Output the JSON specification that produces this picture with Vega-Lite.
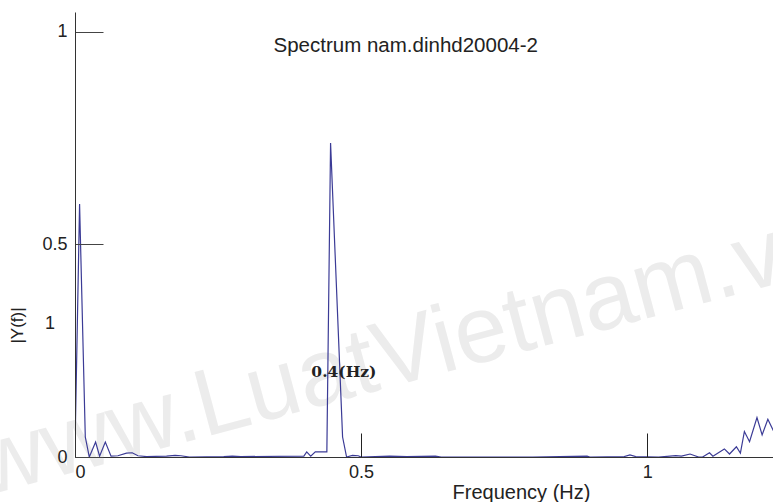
{
  "$schema": "https://vega.github.io/schema/vega-lite/v6.json",
  "autosize": {"type": "none"},
  "padding": {"left": 75, "top": 12, "right": 0, "bottom": 45},
  "width": 698,
  "height": 445,
  "background": "white",
  "config": {"view": {"stroke": null}},
  "datasets": {
    "spectrum": [
      {"f": 0.0, "v": 0.02}, {"f": 0.008, "v": 0.595}, {"f": 0.018, "v": 0.047}, {"f": 0.025, "v": 0.0},
      {"f": 0.036, "v": 0.035}, {"f": 0.043, "v": 0.002}, {"f": 0.053, "v": 0.035}, {"f": 0.063, "v": 0.002},
      {"f": 0.075, "v": 0.003}, {"f": 0.09, "v": 0.009}, {"f": 0.1, "v": 0.01}, {"f": 0.11, "v": 0.003},
      {"f": 0.125, "v": 0.001}, {"f": 0.16, "v": 0.002}, {"f": 0.175, "v": 0.004}, {"f": 0.185, "v": 0.003},
      {"f": 0.2, "v": 0.0}, {"f": 0.26, "v": 0.001}, {"f": 0.275, "v": 0.002}, {"f": 0.29, "v": 0.001},
      {"f": 0.4, "v": 0.002}, {"f": 0.405, "v": 0.012}, {"f": 0.412, "v": 0.002}, {"f": 0.42, "v": 0.012},
      {"f": 0.4402, "v": 0.012}, {"f": 0.4467, "v": 0.739}, {"f": 0.4677, "v": 0.047}, {"f": 0.4747, "v": 0.0},
      {"f": 0.485, "v": 0.004}, {"f": 0.495, "v": 0.003}, {"f": 0.5, "v": 0.0}, {"f": 0.55, "v": 0.002},
      {"f": 0.58, "v": 0.001}, {"f": 0.63, "v": 0.002}, {"f": 0.64, "v": 0.0}, {"f": 0.8, "v": 0.0},
      {"f": 0.895, "v": 0.002}, {"f": 0.9, "v": 0.0}, {"f": 0.96, "v": 0.001}, {"f": 0.97, "v": 0.005},
      {"f": 0.98, "v": 0.001}, {"f": 1.02, "v": 0.0}, {"f": 1.05, "v": 0.003}, {"f": 1.06, "v": 0.002},
      {"f": 1.075, "v": 0.007}, {"f": 1.09, "v": 0.0}, {"f": 1.097, "v": 0.0}, {"f": 1.109, "v": 0.01},
      {"f": 1.115, "v": 0.002}, {"f": 1.135, "v": 0.019}, {"f": 1.144, "v": 0.007}, {"f": 1.156, "v": 0.024},
      {"f": 1.163, "v": 0.009}, {"f": 1.17, "v": 0.06}, {"f": 1.179, "v": 0.036}, {"f": 1.192, "v": 0.093},
      {"f": 1.201, "v": 0.052}, {"f": 1.211, "v": 0.089}, {"f": 1.22, "v": 0.064}, {"f": 1.23, "v": 0.08}
    ],
    "notes": [
      {"f": 0.545, "v": 0.162, "t": "www.LuatVietnam.v"}
    ]
  },
  "layer": [
    {
      "data": {"name": "notes"},
      "mark": {"type": "text", "font": "'Liberation Sans', sans-serif", "fontSize": 95, "color": "#ececec", "angle": -15, "align": "center", "baseline": "alphabetic", "clip": false},
      "encoding": {
        "x": {"field": "f", "type": "quantitative", "scale": {"domain": [0, 1.22], "nice": false, "zero": false}},
        "y": {"field": "v", "type": "quantitative", "scale": {"domain": [0, 1.047], "nice": false}},
        "text": {"field": "t"}
      }
    },
    {
      "data": {"name": "spectrum"},
      "mark": {"type": "line", "color": "#3b3b96", "strokeWidth": 1.2, "clip": true},
      "encoding": {
        "x": {
          "field": "f", "type": "quantitative",
          "scale": {"domain": [0, 1.22], "nice": false, "zero": false},
          "axis": {
            "values": [0, 0.5, 1], "format": "~g", "grid": false, "zindex": 1,
            "domainColor": "#333333", "tickColor": "#222222", "tickSize": -24,
            "labelFont": "Liberation Sans", "labelFontSize": 18, "labelColor": "#222222", "labelPadding": 30,
            "labelBaseline": "top",
            "title": "Frequency (Hz)", "titleFont": "Liberation Sans", "titleFontSize": 20, "titleFontWeight": "normal",
            "titleColor": "#222222", "titleX": 446, "titleY": 35, "titleBaseline": "middle", "titleAlign": "center"
          }
        },
        "y": {
          "field": "v", "type": "quantitative",
          "scale": {"domain": [0, 1.047], "nice": false},
          "axis": {
            "values": [0, 0.5, 1], "format": "~g", "grid": false, "zindex": 1,
            "domainColor": "#333333", "tickColor": "#444444", "tickSize": -28,
            "labelFont": "Liberation Sans", "labelFontSize": 18, "labelColor": "#222222", "labelPadding": 36,
            "title": "|Y(f)|", "titleFont": "Liberation Sans", "titleFontSize": 17, "titleFontWeight": "normal",
            "titleColor": "#222222", "titleX": -49, "titleY": 313, "titleAngle": 270, "titleBaseline": "bottom", "titleAlign": "center"
          }
        }
      }
    },
    {
      "data": {"values": [{}]},
      "mark": {"type": "text", "font": "Liberation Sans", "fontSize": 20.5, "color": "#222222", "align": "left", "baseline": "middle"},
      "encoding": {
        "x": {"datum": 0.347, "type": "quantitative"},
        "y": {"datum": 0.967, "type": "quantitative"},
        "text": {"value": "Spectrum nam.dinhd20004-2"}
      }
    },
    {
      "data": {"values": [{}]},
      "mark": {"type": "text", "font": "DejaVu Serif", "fontWeight": "bold", "fontSize": 15.5, "color": "#222222", "align": "center", "baseline": "middle"},
      "encoding": {
        "x": {"datum": 0.47, "type": "quantitative"},
        "y": {"datum": 0.2, "type": "quantitative"},
        "text": {"value": "0.4(Hz)"}
      }
    },
    {
      "data": {"values": [{}]},
      "mark": {"type": "text", "font": "Liberation Sans", "fontSize": 18, "color": "#222222", "align": "center", "baseline": "middle", "dx": -25},
      "encoding": {
        "x": {"datum": 0, "type": "quantitative"},
        "y": {"datum": 0.313, "type": "quantitative"},
        "text": {"value": "1"}
      }
    }
  ]
}
